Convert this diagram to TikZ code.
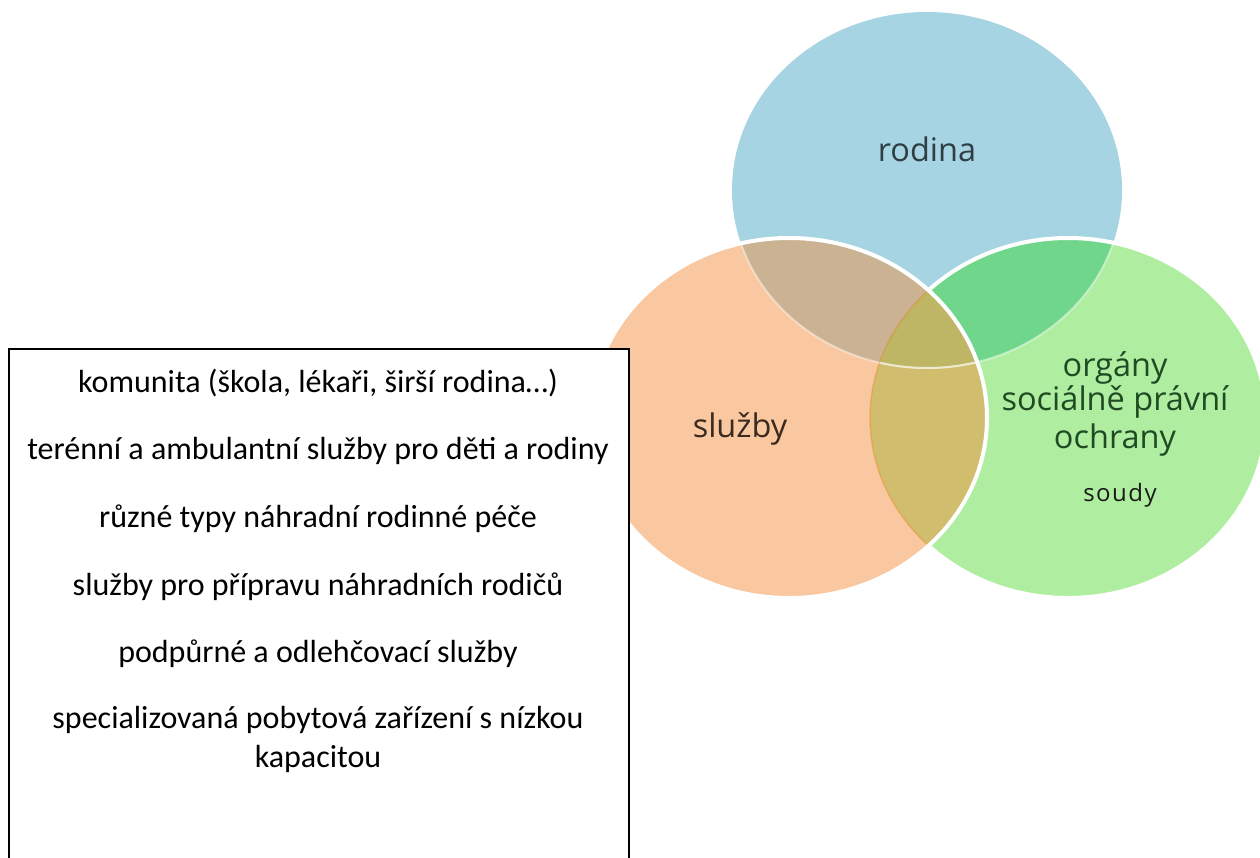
\documentclass[tikz,border=0pt]{standalone}
\usepackage{fontspec}
\setmainfont{Carlito}
\newfontfamily\osans{Open Sans}
\definecolor{cblue}{HTML}{A6D4E2}
\definecolor{corange}{HTML}{FAC8A0}
\definecolor{cgreen}{HTML}{AFEEA0}
\definecolor{cbrown}{HTML}{CAB292}
\definecolor{cdkgreen}{HTML}{70D68C}
\definecolor{clens}{HTML}{D0BE6E}
\definecolor{ctriple}{HTML}{BEB664}
\definecolor{tblue}{HTML}{2F3E44}
\definecolor{tbrown}{HTML}{3B2A1E}
\definecolor{tgreen}{HTML}{1F4A24}
\tikzset{
  venntext/.style={anchor=base, font=\osans\fontsize{32.5}{38}\selectfont, inner sep=0pt},
  boxline/.style={anchor=base, font=\fontsize{32}{38.4}\selectfont, inner sep=0pt, text=black},
  whiteedge/.style={draw=white, line width=4pt}
}
\newcommand{\blueshape}{(927,190) ellipse [x radius=195pt, y radius=178pt]}
\newcommand{\orangeshape}{(789,418) ellipse [x radius=198pt, y radius=180pt]}
\newcommand{\greenshape}{(1068,418) ellipse [x radius=198pt, y radius=180pt]}
\begin{document}
\begin{tikzpicture}[x=1pt,y=-1pt]
\useasboundingbox[fill=white] (0,0) rectangle (1260,858);
% circles
\fill[cblue] \blueshape;
\fill[cgreen] \greenshape;
\fill[corange] \orangeshape;
% overlaps
\begin{scope}\clip \blueshape; \fill[cbrown] \orangeshape;\end{scope}
\begin{scope}\clip \blueshape; \fill[cdkgreen] \greenshape;\end{scope}
\begin{scope}\clip \orangeshape; \fill[clens] \greenshape;\end{scope}
\begin{scope}\clip \blueshape; \clip \orangeshape; \fill[ctriple] \greenshape;\end{scope}
% faint inner edges
\begin{scope}\clip \orangeshape; \draw[white, opacity=.45, line width=2pt] \blueshape;
  \draw[orange!70!brown, opacity=.35, line width=1.5pt] \greenshape;\end{scope}
\begin{scope}\clip \greenshape; \draw[white, opacity=.45, line width=2pt] \blueshape;\end{scope}
% white edges
\begin{scope}[even odd rule]\clip (0,0) rectangle (1260,858) \orangeshape;
  \draw[whiteedge] \greenshape;\end{scope}
\draw[whiteedge] \orangeshape;
% circle labels
\node[venntext, text=tblue] (rodina) at (927,162) {rodina};
\node[venntext, text=tbrown] (sluzby) at (740,437) {služby};
\node[venntext, text=tgreen] (organy) at (1115,376) {orgány};
\node[venntext, text=tgreen] (socpr) at (1115,410) {sociálně právní};
\node[venntext, text=tgreen] (ochrany) at (1115,448) {ochrany};
\node[venntext, text=black!90, font=\osans\fontsize{24}{28}\selectfont] (soudy) at (1120,501) {s\kern1.5pt o\kern1.5pt u\kern1.5pt d\kern1.5pt y};
% text box
\node[draw=black, line width=2pt, minimum width=620pt, minimum height=540pt, anchor=north west, inner sep=0pt, fill=white] (box) at (8,348) {};
\node[boxline] (l1) at (318,392) {komunita (škola, lékaři, širší rodina…)};
\node[boxline] (l2) at (318,459) {terénní a ambulantní služby pro děti a rodiny};
\node[boxline] (l3) at (318,527) {různé typy náhradní rodinné péče};
\node[boxline] (l4) at (318,595) {služby pro přípravu náhradních rodičů};
\node[boxline] (l5) at (318,662) {podpůrné a odlehčovací služby};
\node[boxline] (l6) at (318,728) {specializovaná pobytová zařízení s nízkou};
\node[boxline] (l7) at (318,767) {kapacitou};
\end{tikzpicture}
\end{document}
